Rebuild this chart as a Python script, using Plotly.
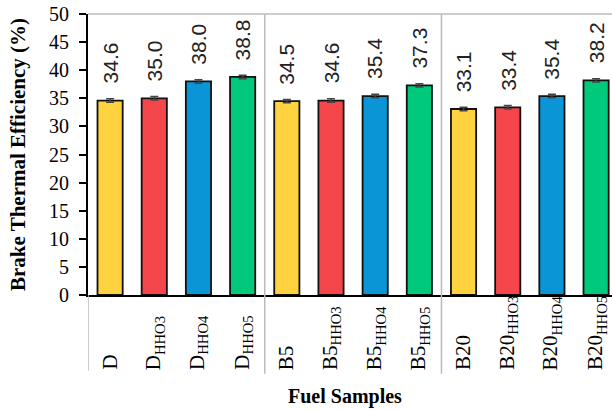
import plotly.graph_objects as go

categories = ["D", "D_HHO3", "D_HHO4", "D_HHO5",
              "B5", "B5_HHO3", "B5_HHO4", "B5_HHO5",
              "B20", "B20_HHO3", "B20_HHO4", "B20_HHO5"]
tick_labels = ["D", "D<sub>HHO3</sub>", "D<sub>HHO4</sub>", "D<sub>HHO5</sub>",
               "B5", "B5<sub>HHO3</sub>", "B5<sub>HHO4</sub>", "B5<sub>HHO5</sub>",
               "B20", "B20<sub>HHO3</sub>", "B20<sub>HHO4</sub>", "B20<sub>HHO5</sub>"]
bte = [34.6, 35.0, 38.0, 38.8, 34.5, 34.6, 35.4, 37.3, 33.1, 33.4, 35.4, 38.2]
err = [0.3] * 12
colors = ["#FFD23F", "#F5474B", "#0A96D6", "#00C97C"] * 3

fig = go.Figure()
fig.add_trace(go.Bar(
    x=categories, y=bte, width=0.57,
    marker=dict(color=colors, line=dict(color="#111111", width=1.8)),
    error_y=dict(type="data", array=err, color="#444444", thickness=1.5, width=4),
    hoverinfo="skip",
))

annotations = []
for c, v, e in zip(categories, bte, err):
    annotations.append(dict(x=c, y=v + e, xref="x", yref="y", text=f"{v:.1f}",
                            showarrow=False, textangle=-90, xanchor="center",
                            yanchor="bottom", yshift=13,
                            font=dict(family="Liberation Sans, Arial", size=21, color="#222222")))
for c, t in zip(categories, tick_labels):
    annotations.append(dict(x=c, y=-0.274, xref="x", yref="paper", text=t,
                            showarrow=False, textangle=-90, xanchor="center",
                            yanchor="bottom",
                            font=dict(family="Liberation Serif, Times New Roman", size=21, color="#000000")))
annotations.append(dict(x=0.49, y=-0.36, xref="paper", yref="paper", text="<b>Fuel Samples</b>",
                        showarrow=False, xanchor="center", yanchor="middle",
                        font=dict(family="Liberation Serif, Times New Roman", size=20, color="#000000")))

shapes = [
    dict(type="line", xref="paper", yref="paper", x0=0, x1=1, y0=1, y1=1,
         line=dict(color="#BBBBBB", width=1.5)),
    dict(type="line", xref="x", yref="paper", x0=-0.5, x1=-0.5, y0=0, y1=-0.27,
         line=dict(color="#BBBBBB", width=1.5)),
    dict(type="line", xref="x", yref="paper", x0=3.5, x1=3.5, y0=1, y1=-0.28,
         line=dict(color="#BBBBBB", width=1.5)),
    dict(type="line", xref="x", yref="paper", x0=7.5, x1=7.5, y0=1, y1=-0.28,
         line=dict(color="#BBBBBB", width=1.5)),
]

fig.update_layout(
    width=612, height=410,
    margin=dict(l=88, r=0, t=14, b=115),
    paper_bgcolor="white", plot_bgcolor="white",
    showlegend=False,
    annotations=annotations, shapes=shapes,
    xaxis=dict(type="category", categoryorder="array", categoryarray=categories,
               range=[-0.5, 11.36], showticklabels=False, ticks="",
               showline=True, linecolor="#000000", linewidth=2, showgrid=False, zeroline=False),
    yaxis=dict(range=[0, 50], dtick=5, ticks="outside", ticklen=7, tickwidth=1.5,
               tickcolor="#000000", showline=True, linecolor="#000000", linewidth=2,
               showgrid=False, zeroline=False, ticklabelstandoff=6,
               tickfont=dict(family="Liberation Serif, Times New Roman", size=20, color="#000000"),
               title=dict(text="<b>Brake Thermal Efficiency (%)</b>", standoff=18,
                          font=dict(family="Liberation Serif, Times New Roman", size=21, color="#000000"))),
)

fig.write_html("out.html", config={"displayModeBar": False},
               post_script="document.body.style.margin='0';document.body.style.overflow='hidden';")
